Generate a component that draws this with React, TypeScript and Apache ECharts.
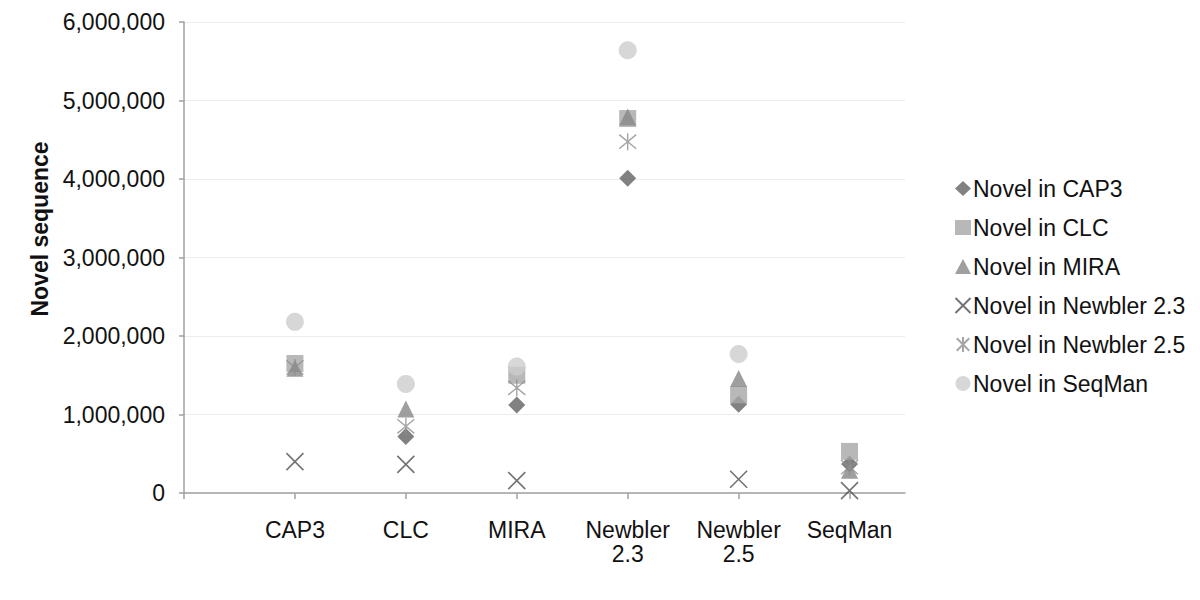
import React, { useEffect, useRef } from "react";
import * as echarts from "echarts";

const categories = ["CAP3", "CLC", "MIRA", "Newbler\n2.3", "Newbler\n2.5", "SeqMan"];
const seriesNames = [
  "Novel in CAP3",
  "Novel in CLC",
  "Novel in MIRA",
  "Novel in Newbler 2.3",
  "Novel in Newbler 2.5",
  "Novel in SeqMan",
];
const novelCAP3 = [null, 720000, 1120000, 4010000, 1130000, 370000];
const novelCLC = [1650000, null, 1500000, 4770000, 1250000, 530000];
const novelMIRA = [1590000, 1070000, null, 4790000, 1460000, 290000];
const novelNewbler23 = [400000, 365000, 157000, null, 175000, 30000];
const novelNewbler25 = [1600000, 850000, 1340000, 4475000, null, 330000];
const novelSeqMan = [2180000, 1390000, 1610000, 5640000, 1770000, null];

const FONT = "'Liberation Sans', Arial, sans-serif";

const toPoints = (arr: (number | null)[]) =>
  arr
    .map((v, i) => (v === null ? null : [i + 1, v]))
    .filter((p) => p !== null) as number[][];

export default function App() {
  const ref = useRef<HTMLDivElement>(null);
  useEffect(() => {
    if (!ref.current) return;
    const chart = echarts.init(ref.current, null, { renderer: "svg" });
    const values = [novelCAP3, novelCLC, novelMIRA, novelNewbler23, novelNewbler25, novelSeqMan];
    const styles: any[] = [
      { symbol: "diamond", symbolSize: 17, itemStyle: { color: "#626262" } },
      { symbol: "rect", symbolSize: 17, itemStyle: { color: "#a6a6a6" } },
      { symbol: "triangle", symbolSize: 17, itemStyle: { color: "#878787" } },
      {
        symbol: "path://M0,0L10,10M10,0L0,10",
        symbolSize: 17,
        itemStyle: { color: "none", borderColor: "#505050", borderWidth: 1.6 },
      },
      {
        symbol: "path://M0,0L10,10M10,0L0,10M5,-1L5,11",
        symbolSize: 17,
        itemStyle: { color: "none", borderColor: "#8e8e8e", borderWidth: 1.4 },
      },
      { symbol: "circle", symbolSize: 18, itemStyle: { color: "#cdcdcd" } },
    ];
    const series = seriesNames.map((name, i) => ({
      name,
      type: "scatter",
      data: toPoints(values[i]),
      ...styles[i],
      z: 2 + i,
    }));
    chart.setOption({
      animation: false,
      backgroundColor: "#ffffff",
      textStyle: { fontFamily: FONT },
      grid: { left: 184, right: 295, top: 22, bottom: 107 },
      legend: {
        orient: "vertical",
        left: 948,
        top: 172,
        itemWidth: 16,
        itemHeight: 15,
        itemGap: 16,
        textStyle: { fontFamily: FONT, fontSize: 23, color: "#111", padding: [0, 0, 0, -3] },
        data: seriesNames,
      },
      xAxis: {
        type: "value",
        min: 0,
        max: 6.5,
        interval: 1,
        splitLine: { show: false },
        axisLine: { show: true, lineStyle: { color: "#a0a0a0", width: 1.5 } },
        axisTick: {
          show: true,
          length: 6,
          lineStyle: { color: "#a0a0a0", width: 1.5 },
          customValues: [0, 1, 2, 3, 4, 5, 6],
        },
        axisLabel: {
          customValues: [1, 2, 3, 4, 5, 6],
          formatter: (v: number) => categories[Math.round(v) - 1] ?? "",
          fontFamily: FONT,
          fontSize: 23,
          lineHeight: 24,
          color: "#111",
          margin: 25,
        },
      },
      yAxis: {
        type: "value",
        min: 0,
        max: 6000000,
        interval: 1000000,
        axisLine: { show: true, lineStyle: { color: "#a0a0a0", width: 1.5 } },
        axisTick: { show: true, length: 5, lineStyle: { color: "#a0a0a0", width: 1.5 } },
        splitLine: { show: true, lineStyle: { color: "#ececec", width: 1 } },
        axisLabel: {
          fontFamily: FONT,
          fontSize: 23,
          color: "#111",
          margin: 19,
          formatter: (v: number) => v.toLocaleString("en-US"),
        },
      },
      graphic: [
        {
          type: "text",
          x: 40,
          y: 229,
          rotation: Math.PI / 2,
          style: {
            text: "Novel sequence",
            fontFamily: FONT,
            fontSize: 23,
            fontWeight: "bold",
            fill: "#111",
            align: "center",
            verticalAlign: "middle",
          },
        },
      ],
      series,
    });
    return () => chart.dispose();
  }, []);
  return <div ref={ref} style={{ width: 1200, height: 600, position: "absolute", left: 0, top: 0 }} />;
}
